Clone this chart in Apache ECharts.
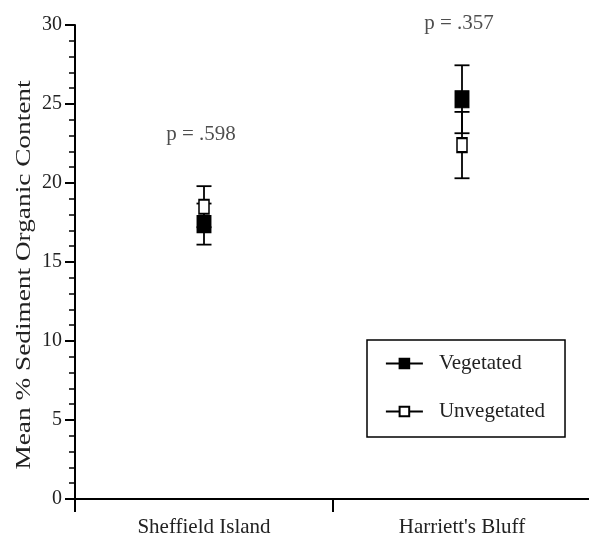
<!DOCTYPE html>
<html><head><meta charset="utf-8">
<script src="https://cdn.jsdelivr.net/npm/echarts@6/dist/echarts.min.js"></script>
<style>html,body{margin:0;padding:0;background:#fff}#c{width:589px;height:539px}</style>
</head><body><div id="c"></div>
<script>
const categories = ['Sheffield Island', "Harriett's Bluff"];
const vegMean = [17.4, 25.3];
const vegErr = [1.3, 2.15];
const unvegMean = [18.5, 22.4];
const unvegErr = [1.3, 2.1];
const pLabels = ['p = .598', 'p = .357'];
const pLabelY = [23.1, 30.1];
const yTicks = [0, 5, 10, 15, 20, 25, 30];
const yTitle = 'Mean % Sediment Organic Content';

const font = 'Liberation Serif';
const txt = '#222';

function errData(mean, err) {
  return mean.map((m, i) => [i, m - err[i], m + err[i]]);
}
function errRender(params, api) {
  const x = api.value(0);
  const lo = api.coord([x, api.value(1)]);
  const hi = api.coord([x, api.value(2)]);
  const w = 7.5;
  const st = { stroke: '#000', lineWidth: 1.8 };
  return { type: 'group', children: [
    { type: 'line', shape: { x1: lo[0], y1: lo[1], x2: hi[0], y2: hi[1] }, style: st },
    { type: 'line', shape: { x1: lo[0] - w, y1: lo[1], x2: lo[0] + w, y2: lo[1] }, style: st },
    { type: 'line', shape: { x1: hi[0] - w, y1: hi[1], x2: hi[0] + w, y2: hi[1] }, style: st }
  ]};
}

const chart = echarts.init(document.getElementById('c'), null, { renderer: 'canvas' });
chart.setOption({
  animation: false,
  grid: { left: 75, width: 516, top: 25, bottom: 40, outerBoundsMode: 'none', containLabel: false },
  graphic: [{
    type: 'text', x: 24, y: 275, rotation: Math.PI / 2, scaleX: 1.3,
    style: { text: yTitle, fill: txt, font: '21px "Liberation Serif"', align: 'center', verticalAlign: 'middle' }
  }],
  xAxis: {
    type: 'category', data: categories, boundaryGap: true,
    axisLine: { lineStyle: { color: '#000', width: 2 } },
    axisTick: { show: true, length: 13, lineStyle: { color: '#000', width: 2 } },
    axisLabel: { color: txt, fontFamily: font, fontSize: 21, margin: 18 },
    splitLine: { show: false }
  },
  yAxis: {
    type: 'value', min: 0, max: 30, interval: 5,
    axisLine: { show: true, lineStyle: { color: '#000', width: 2 } },
    axisTick: { show: true, length: 10, lineStyle: { color: '#000', width: 2 } },
    minorTick: { show: true, splitNumber: 5, length: 6, lineStyle: { color: '#000', width: 1.5 } },
    axisLabel: { color: txt, fontFamily: font, fontSize: 20, margin: 13,
      formatter: v => yTicks.includes(v) ? String(v) : '' },
    splitLine: { show: false }
  },
  legend: {
    orient: 'vertical', left: 367, top: 340,
    data: ['Vegetated', 'Unvegetated'],
    borderColor: '#000', borderWidth: 1.5, borderRadius: 0,
    padding: [13, 20, 15, 18], itemGap: 27,
    itemWidth: 37, itemHeight: 12,
    lineStyle: { color: '#000', width: 1.8, opacity: 1 },
    textStyle: { color: txt, fontFamily: font, fontSize: 21, padding: [0, 0, 0, 11] }
  },
  series: [
    { type: 'custom', name: 'errU', renderItem: errRender, data: errData(unvegMean, unvegErr), z: 2, silent: true },
    { type: 'custom', name: 'errV', renderItem: errRender, data: errData(vegMean, vegErr), z: 2, silent: true },
    { type: 'line', name: 'Unvegetated', data: unvegMean, symbol: 'rect', symbolSize: [10, 14],
      showAllSymbol: true,
      itemStyle: { color: '#fff', borderColor: '#000', borderWidth: 1.8 },
      lineStyle: { opacity: 0, width: 0 }, z: 3 },
    { type: 'line', name: 'Vegetated', data: vegMean, symbol: 'rect', symbolSize: [14, 17],
      showAllSymbol: true,
      itemStyle: { color: '#000', borderColor: '#000', borderWidth: 1 },
      lineStyle: { opacity: 0, width: 0 }, z: 4 },
    { type: 'scatter', name: 'p', data: pLabelY.map((v, i) => ({ value: [i, v], label: { formatter: pLabels[i] } })),
      symbolSize: 0, clip: false, silent: true,
      label: { show: true, position: 'inside', offset: [-3, 0], color: txt, fontFamily: font, fontSize: 21 } }
  ]
});
</script></body></html>
